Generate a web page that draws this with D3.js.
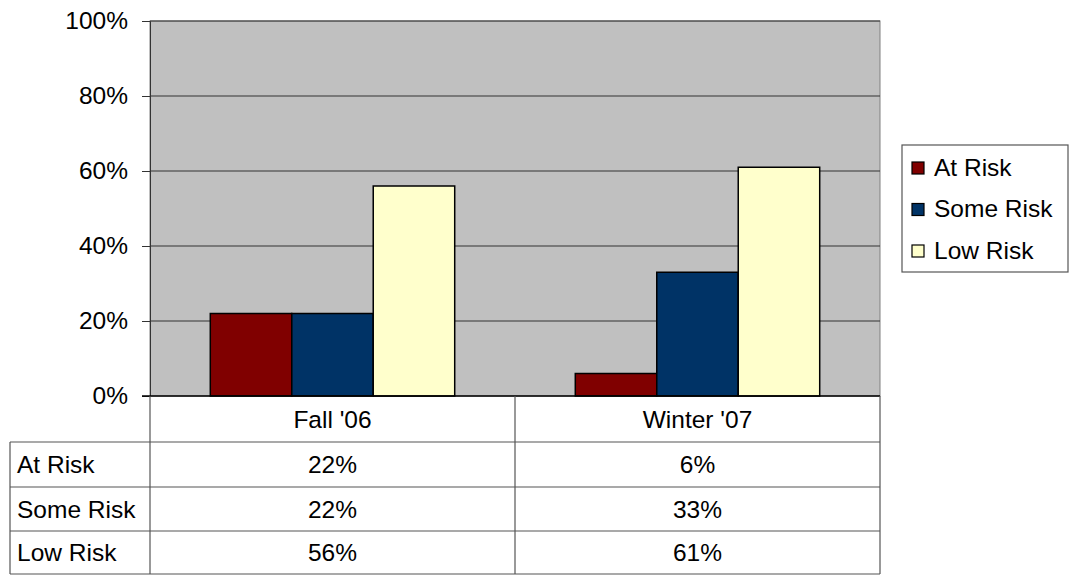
<!DOCTYPE html>
<html>
<head>
<meta charset="utf-8">
<script src="https://cdn.jsdelivr.net/npm/d3@7"></script>
<style>
body { margin: 0; background: #fff; }
text { font-family: "Liberation Sans", Arial, sans-serif; fill: #000; }
</style>
</head>
<body>
<script>
const periods = ["Fall '06", "Winter '07"];
const series = ["At Risk", "Some Risk", "Low Risk"];
const atRisk = [22, 6];
const someRisk = [22, 33];
const lowRisk = [56, 61];
const yTicks = [0, 20, 40, 60, 80, 100];
const colors = ["#800000", "#003366", "#ffffcc"];

const values = [atRisk, someRisk, lowRisk];
const width = 1069, height = 575;
const plot = { left: 150, right: 880, top: 21, bottom: 396 };
const tableLeft = 10, rowH = [396, 442, 487, 531, 574];
const fs = "24.5px";

const svg = d3.select("body").append("svg")
  .attr("width", width).attr("height", height);

const x0 = d3.scaleBand().domain(periods).range([plot.left, plot.right]);
const x1 = d3.scaleBand().domain(series).range([0, x0.bandwidth()]).paddingInner(0).paddingOuter(0.74);
const y = d3.scaleLinear().domain([0, 100]).range([plot.bottom, plot.top]);

// plot background
svg.append("rect")
  .attr("x", plot.left).attr("y", plot.top)
  .attr("width", plot.right - plot.left).attr("height", plot.bottom - plot.top)
  .attr("fill", "#c0c0c0").attr("stroke", "#808080").attr("stroke-width", 1);

// gridlines
svg.append("g").selectAll("line")
  .data(yTicks.filter(d => d > 0))
  .enter().append("line")
  .attr("x1", plot.left).attr("x2", plot.right)
  .attr("y1", d => y(d)).attr("y2", d => y(d))
  .attr("stroke", "#333").attr("stroke-width", 1);

// y axis
const yAxis = svg.append("g")
  .attr("transform", "translate(" + plot.left + ",0)")
  .call(d3.axisLeft(y).tickValues(yTicks).tickFormat(d => d + "%").tickSize(8).tickPadding(14));
yAxis.select(".domain").attr("stroke", "#333");
yAxis.selectAll(".tick line").attr("stroke", "#333");
yAxis.selectAll("text").style("font-size", fs).attr("fill", "#000")
  .style("font-family", "'Liberation Sans', Arial, sans-serif");

// bars
const group = svg.append("g").selectAll("g")
  .data(periods)
  .enter().append("g")
  .attr("transform", d => "translate(" + x0(d) + ",0)");

group.selectAll("rect")
  .data((p, i) => series.map((s, j) => ({ s: s, v: values[j][i], c: colors[j] })))
  .enter().append("rect")
  .attr("x", d => x1(d.s))
  .attr("width", x1.bandwidth())
  .attr("y", d => y(d.v))
  .attr("height", d => y(0) - y(d.v))
  .attr("fill", d => d.c)
  .attr("stroke", "#000").attr("stroke-width", 1.5);

// data table
const tg = svg.append("g").attr("stroke", "#555").attr("stroke-width", 1.2);
tg.append("line").attr("x1", plot.left - 8).attr("x2", plot.right).attr("y1", rowH[0]).attr("y2", rowH[0]).attr("stroke", "#000").attr("stroke-width", 1.5);
rowH.slice(1).forEach(r => {
  tg.append("line").attr("x1", tableLeft).attr("x2", plot.right).attr("y1", r).attr("y2", r);
});
tg.append("line").attr("x1", tableLeft).attr("x2", tableLeft).attr("y1", rowH[1]).attr("y2", rowH[4]);
[plot.left, x0(periods[1]), plot.right].forEach(xv => {
  tg.append("line").attr("x1", xv).attr("x2", xv).attr("y1", rowH[0]).attr("y2", rowH[4]);
});

// header labels
svg.append("g").selectAll("text")
  .data(periods)
  .enter().append("text")
  .attr("x", d => x0(d) + x0.bandwidth() / 2)
  .attr("y", (rowH[0] + rowH[1]) / 2)
  .attr("dy", "0.36em")
  .attr("text-anchor", "middle")
  .style("font-size", fs)
  .text(d => d);

// row labels + values
series.forEach((s, j) => {
  const cy = (rowH[j + 1] + rowH[j + 2]) / 2;
  svg.append("text")
    .attr("x", tableLeft + 7).attr("y", cy).attr("dy", "0.36em")
    .style("font-size", fs)
    .text(s);
  periods.forEach((p, i) => {
    svg.append("text")
      .attr("x", x0(p) + x0.bandwidth() / 2).attr("y", cy).attr("dy", "0.36em")
      .attr("text-anchor", "middle")
      .style("font-size", fs)
      .text(values[j][i] + "%");
  });
});

// legend
const lg = svg.append("g").attr("transform", "translate(902,145)");
lg.append("rect").attr("width", 166).attr("height", 127)
  .attr("fill", "#fff").attr("stroke", "#555").attr("stroke-width", 1.2);
const li = lg.selectAll("g.item")
  .data(series)
  .enter().append("g").attr("class", "item")
  .attr("transform", (d, i) => "translate(10," + (22 + i * 41.5) + ")");
li.append("rect").attr("x", 0).attr("y", -5).attr("width", 12).attr("height", 12)
  .attr("fill", (d, i) => colors[i]).attr("stroke", "#000").attr("stroke-width", 1.2);
li.append("text").attr("x", 22).attr("y", 0).attr("dy", "0.36em")
  .style("font-size", fs)
  .text(d => d);
</script>
</body>
</html>
